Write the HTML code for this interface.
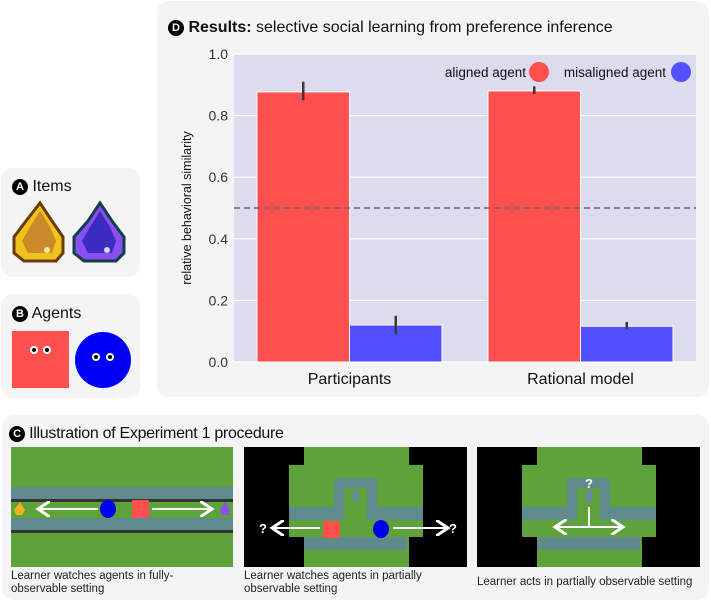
<!DOCTYPE html>
<html><head><meta charset="utf-8"><style>
body{margin:0;width:711px;height:603px;background:#fff;font-family:"Liberation Sans",sans-serif;position:relative;overflow:hidden}
.panel{position:absolute;background:#f4f4f4;border-radius:12px}
.badge{display:inline-block;width:16px;height:16px;border-radius:50%;background:#000;color:#fff;font-size:11px;font-weight:bold;text-align:center;line-height:16px;vertical-align:middle}
.ttl{position:absolute;font-size:16px;color:#111;white-space:nowrap}
.cap{position:absolute;font-size:11.5px;color:#222;line-height:13px}
</style></head><body>
<div class="panel" style="left:1px;top:168px;width:139px;height:109px"></div>
<div class="ttl" style="left:12px;top:178px"><span class="badge">A</span> Items</div>
<svg style="position:absolute;left:0;top:195px" width="140" height="75">
<path d="M40 8 L52 26 L63 42 L63 58 L56 66 L24 66 L14 58 L14 42 L26 26 Z" fill="#f0c21c" stroke="#6b3a0b" stroke-width="3"/>
<path d="M40 16 L50 32 L56 46 L52 58 L28 58 L22 46 L30 32 Z" fill="#c98a2a"/>
<circle cx="47" cy="55" r="3" fill="#ffe8a0"/>
<path d="M100 8 L112 26 L124 42 L124 58 L116 66 L84 66 L74 58 L74 42 L88 26 Z" fill="#8a4ff0" stroke="#12404a" stroke-width="3"/>
<path d="M100 16 L110 32 L116 46 L112 58 L88 58 L82 46 L90 32 Z" fill="#3b2bc0"/>
<circle cx="107" cy="55" r="3" fill="#e0d0ff"/>
</svg>
<div class="panel" style="left:1px;top:294px;width:139px;height:104px"></div>
<div class="ttl" style="left:12px;top:305px"><span class="badge">B</span> Agents</div>
<svg style="position:absolute;left:0;top:325px" width="140" height="70">
<rect x="12" y="6" width="57" height="57" fill="#ff5050"/>
<circle cx="34" cy="25" r="4" fill="#fff"/><circle cx="34" cy="25" r="2" fill="#000"/>
<circle cx="47" cy="25" r="4" fill="#fff"/><circle cx="47" cy="25" r="2" fill="#000"/>
<circle cx="103" cy="35" r="28" fill="#0000f5"/>
<circle cx="96" cy="32" r="4" fill="#fff"/><circle cx="96" cy="32" r="2" fill="#000"/>
<circle cx="110" cy="32" r="4" fill="#fff"/><circle cx="110" cy="32" r="2" fill="#000"/>
</svg>

<div class="panel" style="left:157px;top:1px;width:552px;height:396px"></div>
<div class="ttl" style="left:168px;top:19px"><span class="badge">D</span> <b>Results:</b> selective social learning from preference inference</div>
<svg id="chart" style="position:absolute;left:0;top:0" width="711" height="400"></svg>

<div class="panel" style="left:2px;top:415px;width:707px;height:185px"></div>
<div class="ttl" style="left:9px;top:425px;letter-spacing:-0.3px"><span class="badge">C</span> Illustration of Experiment 1 procedure</div>
<svg style="position:absolute;left:0;top:0" width="711" height="603">
<defs><marker id="ah" markerWidth="8" markerHeight="8" refX="6" refY="4" orient="auto"><path d="M0 0 L6 4 L0 8" fill="none" stroke="#fff" stroke-width="1.5"/></marker></defs>
<g>
<rect x="11" y="447" width="222" height="120" fill="#5ea33a"/>
<rect x="11" y="487" width="222" height="15" fill="#5f8a8e"/><rect x="11" y="499" width="222" height="3" fill="#333"/>
<rect x="11" y="518" width="222" height="15" fill="#5f8a8e"/><rect x="11" y="530" width="222" height="3" fill="#333"/>
<path d="M20 502 L25 510 L22 515 L16 515 L14 510 Z" fill="#f0b020"/>
<path d="M225 502 L230 510 L228 515 L222 515 L220 510 Z" fill="#8a4ff0"/>
<line x1="98" y1="509" x2="38" y2="509" stroke="#fff" stroke-width="2" marker-end="url(#ah)"/>
<line x1="152" y1="509" x2="212" y2="509" stroke="#fff" stroke-width="2" marker-end="url(#ah)"/>
<ellipse cx="108" cy="509" rx="8" ry="9" fill="#0000f0"/>
<rect x="132" y="500" width="17" height="18" fill="#ff5050"/>
</g>
<g>
<rect x="244" y="447" width="223" height="120" fill="#000"/>
<rect x="304" y="447" width="105" height="120" fill="#5ea33a"/>
<rect x="289" y="465" width="134" height="72" fill="#5ea33a"/>
<rect x="318" y="547" width="75" height="20" fill="#5ea33a"/>
<path d="M334 478 H377 V507 H423 V520 H367 V488 H344 V520 H289 V507 H334 Z" fill="#5f8a8e"/>
<rect x="304" y="537" width="103" height="13" fill="#5f8a8e"/>
<rect x="353" y="490" width="6" height="12" fill="#6a8aa0"/>
<rect x="323" y="521" width="17" height="17" fill="#ff5050"/>
<ellipse cx="381" cy="529" rx="8" ry="9" fill="#0000f0"/>
<line x1="320" y1="528" x2="272" y2="528" stroke="#fff" stroke-width="2" marker-end="url(#ah)"/>
<line x1="393" y1="528" x2="448" y2="528" stroke="#fff" stroke-width="2" marker-end="url(#ah)"/>
<text x="259" y="533" fill="#fff" font-size="13" font-weight="bold">?</text>
<text x="449" y="533" fill="#fff" font-size="13" font-weight="bold">?</text>
</g>
<g>
<rect x="477" y="447" width="223" height="120" fill="#000"/>
<rect x="537" y="447" width="105" height="120" fill="#5ea33a"/>
<rect x="522" y="465" width="134" height="72" fill="#5ea33a"/>
<rect x="551" y="547" width="75" height="20" fill="#5ea33a"/>
<path d="M567 478 H610 V507 H656 V520 H600 V488 H577 V520 H522 V507 H567 Z" fill="#5f8a8e"/>
<rect x="537" y="537" width="103" height="13" fill="#5f8a8e"/>
<rect x="586" y="490" width="6" height="12" fill="#6a8aa0"/>
<line x1="589" y1="507" x2="589" y2="527" stroke="#fff" stroke-width="2"/>
<line x1="589" y1="527" x2="555" y2="527" stroke="#fff" stroke-width="2" marker-end="url(#ah)"/>
<line x1="589" y1="527" x2="623" y2="527" stroke="#fff" stroke-width="2" marker-end="url(#ah)"/>
<text x="585" y="488" fill="#fff" font-size="13" font-weight="bold">?</text>
</g>
</svg>
<div class="cap" style="left:11px;top:570px">Learner watches agents in fully-<br>observable setting</div>
<div class="cap" style="left:244px;top:570px">Learner watches agents in partially<br>observable setting</div>
<div class="cap" style="left:477px;top:576px">Learner acts in partially observable setting</div>

<script>
const categories=["Participants","Rational model"];
const alignedVals=[0.877,0.880];
const misalignedVals=[0.120,0.116];
const alignedLo=[0.85,0.87];
const alignedHi=[0.91,0.895];
const misLo=[0.09,0.105];
const misHi=[0.15,0.13];
const yTicks=[0,0.2,0.4,0.6,0.8,1.0];
const chanceLevel=0.5;
const svg=document.getElementById('chart');
const NS='http://www.w3.org/2000/svg';
const L=234,R=696,T=54,B=362;
const y=v=>B-v*(B-T);
const groupW=(R-L)/categories.length;
const barW=92.5;
const xc=i=>L+groupW*(i+0.5);
function mk(tag,at){const e=document.createElementNS(NS,tag);for(const k in at)e.setAttribute(k,at[k]);svg.appendChild(e);return e;}
const bg=mk('rect',{x:L,y:T,width:R-L,height:B-T,fill:'#dcdcee'});


yTicks.forEach(t=>{
 const g=mk('line',{x1:L,x2:R,y1:y(t),y2:y(t),stroke:'#fff','stroke-width':1.2});
 
 
 const tx=mk('text',{x:L-6,y:y(t)+5,'text-anchor':'end','font-size':14,fill:'#333'});
 tx.textContent=t.toFixed(1);
 
 
});
const yl=mk('text',{transform:`translate(191,${(T+B)/2}) rotate(-90)`,'text-anchor':'middle','font-size':12.5,fill:'#111'});
yl.textContent='relative behavioral similarity';


categories.forEach((c,i)=>{
 const cx=xc(i);
 const ra=mk('rect',{x:cx-barW,y:y(alignedVals[i]),width:barW,height:B-y(alignedVals[i]),fill:'#ff4f4f',stroke:'#fff','stroke-width':1});
 
 
 const rb=mk('rect',{x:cx,y:y(misalignedVals[i]),width:barW,height:B-y(misalignedVals[i]),fill:'#5050ff',stroke:'#fff','stroke-width':1});
 
 
 const e1=mk('line',{x1:cx-barW/2,x2:cx-barW/2,y1:y(alignedLo[i]),y2:y(alignedHi[i]),stroke:'#3a3a3a','stroke-width':2.5});
 
 
 const e2=mk('line',{x1:cx+barW/2,x2:cx+barW/2,y1:y(misLo[i]),y2:y(misHi[i]),stroke:'#3a3a3a','stroke-width':2.5});
 
 
 const t=mk('text',{x:cx,y:B+22,'text-anchor':'middle','font-size':16,fill:'#111'});
 t.textContent=c;
 
 
});
const ch=mk('line',{x1:L,x2:R,y1:y(chanceLevel),y2:y(chanceLevel),stroke:'#666','stroke-width':1.5,'stroke-dasharray':'6,4'});


const la=mk('text',{x:526,y:77,'text-anchor':'end','font-size':13.5,fill:'#111'});
la.textContent='aligned agent';


const lc=mk('circle',{cx:539,cy:72,r:10,fill:'#ff4f4f'});


const lb=mk('text',{x:666,y:77,'text-anchor':'end','font-size':13.5,fill:'#111'});
lb.textContent='misaligned agent';


const lm=mk('circle',{cx:681,cy:72,r:10,fill:'#5050ff'});


</script>
</body></html>
